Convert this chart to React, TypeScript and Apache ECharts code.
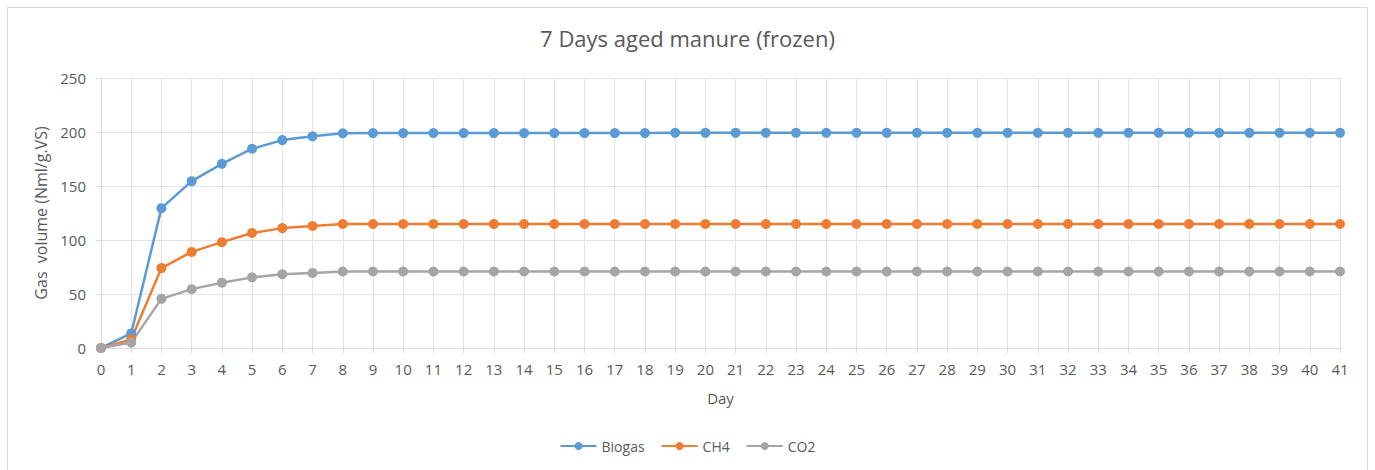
import React, { useEffect, useRef } from "react";
import * as echarts from "echarts";

const days: string[] = Array.from({ length: 42 }, (_, i) => String(i));

const biogas: number[] = [
  0, 13.5, 129.5, 154.5, 170.5, 184.5, 192.5, 196, 198.8, 199, 199, 199, 199, 199, 199, 199, 199, 199, 199, 199.2,
  199.2, 199.2, 199.2, 199.2, 199.2, 199.2, 199.2, 199.2, 199.2, 199.2, 199.2, 199.2, 199.2, 199.2, 199.2, 199.2,
  199.2, 199.2, 199.2, 199.2, 199.2, 199.2,
];
const ch4: number[] = [
  0, 8, 74, 89, 98, 106.5, 111, 113, 114.8, 114.8, 114.8, 114.8, 114.8, 114.8, 114.8, 114.8, 114.8, 114.8, 114.8,
  114.8, 114.8, 114.8, 114.8, 114.8, 114.8, 114.8, 114.8, 114.8, 114.8, 114.8, 114.8, 114.8, 114.8, 114.8, 114.8,
  114.8, 114.8, 114.8, 114.8, 114.8, 114.8, 114.8,
];
const co2: number[] = [
  0, 5, 45.5, 54.5, 60.5, 65.4, 68.2, 69.5, 70.8, 70.8, 70.8, 70.8, 70.8, 70.8, 70.8, 70.8, 70.8, 70.8, 70.8, 70.8,
  70.8, 70.8, 70.8, 70.8, 70.8, 70.8, 70.8, 70.8, 70.8, 70.8, 70.8, 70.8, 70.8, 70.8, 70.8, 70.8, 70.8, 70.8, 70.8,
  70.8, 70.8, 70.8,
];

const seriesNames = ["Biogas", "CH4", "CO2"];
const colors = ["#5B9BD5", "#ED7D31", "#A5A5A5"];

const FONT = "'Open Sans', 'Noto Sans', sans-serif";
const TEXT = "#595959";

export default function App() {
  const ref = useRef<HTMLDivElement>(null);
  useEffect(() => {
    if (!ref.current) return;
    const chart = echarts.init(ref.current, undefined, { renderer: "svg" });
    const data = [biogas, ch4, co2];
    chart.setOption({
      animation: false,
      backgroundColor: "#ffffff",
      textStyle: { fontFamily: FONT },
      title: {
        text: "7 Days aged manure (frozen)",
        left: "center",
        top: 22,
        textStyle: { fontFamily: FONT, fontSize: 22, fontWeight: "normal", color: TEXT },
      },
      graphic: [
        {
          type: "rect",
          shape: { x: 7.5, y: 7.5, width: 1360, height: 480 },
          style: { fill: "none", stroke: "#d9d9d9", lineWidth: 1 },
          silent: true,
        },
      ],
      legend: {
        bottom: 12,
        left: "center",
        itemWidth: 36,
        itemHeight: 10,
        itemGap: 16,
        textStyle: { fontFamily: FONT, fontSize: 14, color: TEXT },
        data: seriesNames,
      },
      grid: { left: 101, right: 35, top: 78, bottom: 122 },
      xAxis: {
        type: "category",
        data: days,
        boundaryGap: false,
        name: "Day",
        nameLocation: "middle",
        nameGap: 42,
        nameTextStyle: { fontFamily: FONT, fontSize: 15, color: TEXT },
        axisLine: { lineStyle: { color: "#d9d9d9" } },
        axisTick: { show: true, length: 5, lineStyle: { color: "#d9d9d9" } },
        axisLabel: { fontFamily: FONT, fontSize: 15, color: TEXT, interval: 0, margin: 13 },
        splitLine: { show: true, interval: 0, lineStyle: { color: "#e3e3e3" } },
      },
      yAxis: {
        type: "value",
        min: 0,
        max: 250,
        interval: 50,
        name: "Gas  volume (Nml/g.VS)",
        nameLocation: "middle",
        nameGap: 48,
        nameTextStyle: { fontFamily: FONT, fontSize: 16, color: TEXT },
        axisLine: { show: true, lineStyle: { color: "#d9d9d9" } },
        axisTick: { show: true, length: 5, lineStyle: { color: "#d9d9d9" } },
        axisLabel: { fontFamily: FONT, fontSize: 15, color: TEXT, margin: 15 },
        splitLine: { show: true, lineStyle: { color: "#e3e3e3" } },
      },
      series: seriesNames.map((name, i) => ({
        name,
        type: "line",
        data: data[i],
        symbol: "circle",
        symbolSize: 10,
        itemStyle: { color: colors[i] },
        lineStyle: { color: colors[i], width: 2.5 },
      })),
    });
    return () => chart.dispose();
  }, []);
  return <div ref={ref} style={{ position: "fixed", left: 0, top: 0, width: 1375, height: 470 }} />;
}
